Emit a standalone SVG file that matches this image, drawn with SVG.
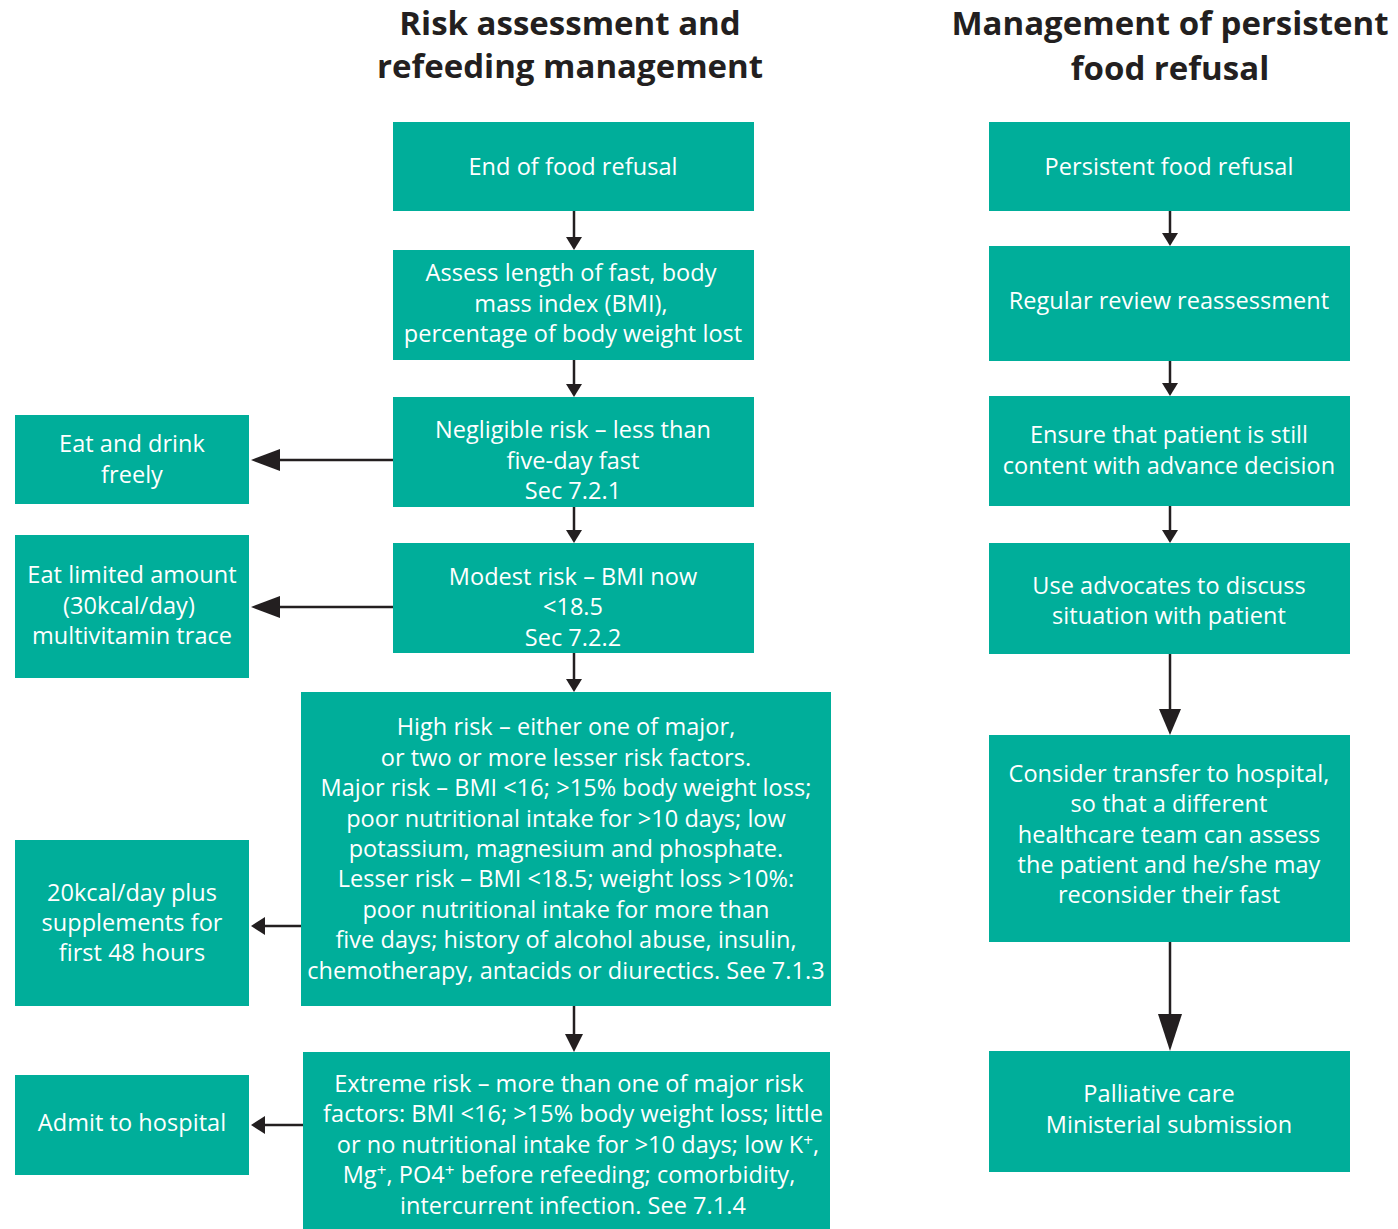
<svg xmlns="http://www.w3.org/2000/svg" width="1398" height="1229" viewBox="0 0 1398 1229">
<style>
.box{fill:#00AE9A}
.t{font-family:"Open Sans","Noto Sans",sans-serif;font-size:23.5px;letter-spacing:0.05px;fill:#fff;text-anchor:middle}
.h{font-family:"Open Sans","Noto Sans",sans-serif;font-size:33px;font-weight:bold;fill:#231f20;text-anchor:middle}
.ln{stroke:#231f20;stroke-width:2.5;fill:none}
.ah{fill:#231f20}
.sup{font-size:17px}
</style>
<rect width="1398" height="1229" fill="#fff"/>
<g id="titles">
<text class="h" x="570" y="35">Risk assessment and</text>
<text class="h" x="570" y="78">refeeding management</text>
<text class="h" x="1170" y="35">Management of persistent</text>
<text class="h" x="1170" y="80">food refusal</text>
</g>
<g id="connectors">
<line class="ln" x1="574" y1="211" x2="574" y2="238"/><polygon class="ah" points="566,237 582,237 574,250"/>
<line class="ln" x1="574" y1="360" x2="574" y2="385"/><polygon class="ah" points="566,384 582,384 574,397"/>
<line class="ln" x1="574" y1="507" x2="574" y2="531"/><polygon class="ah" points="566,530 582,530 574,543"/>
<line class="ln" x1="574" y1="653" x2="574" y2="680"/><polygon class="ah" points="566,679 582,679 574,692"/>
<line class="ln" x1="574" y1="1006" x2="574" y2="1036"/><polygon class="ah" points="565,1034 583,1034 574,1052"/>
<line class="ln" x1="393" y1="460" x2="275" y2="460"/><polygon class="ah" points="280,449 280,471 251,460"/>
<line class="ln" x1="393" y1="607" x2="275" y2="607"/><polygon class="ah" points="280,596 280,618 251,607"/>
<line class="ln" x1="301" y1="926" x2="262" y2="926"/><polygon class="ah" points="265,917 265,935 251,926"/>
<line class="ln" x1="303" y1="1125" x2="262" y2="1125"/><polygon class="ah" points="265,1116 265,1134 251,1125"/>
<line class="ln" x1="1170" y1="211" x2="1170" y2="234"/><polygon class="ah" points="1162,233 1178,233 1170,246"/>
<line class="ln" x1="1170" y1="361" x2="1170" y2="384"/><polygon class="ah" points="1162,383 1178,383 1170,396"/>
<line class="ln" x1="1170" y1="506" x2="1170" y2="531"/><polygon class="ah" points="1162,530 1178,530 1170,543"/>
<line class="ln" x1="1170" y1="654" x2="1170" y2="712"/><polygon class="ah" points="1159,709 1181,709 1170,735"/>
<line class="ln" x1="1170" y1="942" x2="1170" y2="1018"/><polygon class="ah" points="1158,1014 1182,1014 1170,1051"/>
</g>
<g id="n1"><rect class="box" x="393" y="122" width="361" height="89"/><text class="t" x="573" y="175">End of food refusal</text></g>
<g id="n2"><rect class="box" x="393" y="250" width="361" height="110"/><text class="t" x="571" y="281">Assess length of fast, body</text><text class="t" x="571" y="312">mass index (BMI),</text><text class="t" x="573" y="342">percentage of body weight lost</text></g>
<g id="n3"><rect class="box" x="393" y="397" width="361" height="110"/><text class="t" x="573" y="438">Negligible risk – less than</text><text class="t" x="573" y="469">five-day fast</text><text class="t" x="573" y="499">Sec 7.2.1</text></g>
<g id="n4"><rect class="box" x="393" y="543" width="361" height="110"/><text class="t" x="573" y="585">Modest risk – BMI now</text><text class="t" x="573" y="615">&lt;18.5</text><text class="t" x="573" y="646">Sec 7.2.2</text></g>
<g id="n5"><rect class="box" x="301" y="692" width="530" height="314"/>
<text class="t" x="566" y="735">High risk – either one of major,</text>
<text class="t" x="566" y="766">or two or more lesser risk factors.</text>
<text class="t" x="566" y="796">Major risk – BMI &lt;16; &gt;15% body weight loss;</text>
<text class="t" x="566" y="827">poor nutritional intake for &gt;10 days; low</text>
<text class="t" x="566" y="857">potassium, magnesium and phosphate.</text>
<text class="t" x="566" y="887">Lesser risk – BMI &lt;18.5; weight loss &gt;10%:</text>
<text class="t" x="566" y="918">poor nutritional intake for more than</text>
<text class="t" x="566" y="948">five days; history of alcohol abuse, insulin,</text>
<text class="t" x="566" y="979">chemotherapy, antacids or diurectics. See 7.1.3</text></g>
<g id="n6"><rect class="box" x="303" y="1052" width="527" height="177"/>
<text class="t" x="569" y="1092">Extreme risk – more than one of major risk</text>
<text class="t" x="573" y="1122">factors: BMI &lt;16; &gt;15% body weight loss; little</text>
<text class="t" x="578" y="1153">or no nutritional intake for &gt;10 days; low K<tspan class="sup" dy="-7">+</tspan><tspan dy="7">,</tspan></text>
<text class="t" x="569" y="1183">Mg<tspan class="sup" dy="-7">+</tspan><tspan dy="7">, PO4</tspan><tspan class="sup" dy="-7">+</tspan><tspan dy="7"> before refeeding; comorbidity,</tspan></text>
<text class="t" x="573" y="1214">intercurrent infection. See 7.1.4</text></g>
<g id="l1"><rect class="box" x="15" y="415" width="234" height="89"/><text class="t" x="132" y="452">Eat and drink</text><text class="t" x="132" y="483">freely</text></g>
<g id="l2"><rect class="box" x="15" y="535" width="234" height="143"/><text class="t" x="132" y="583">Eat limited amount</text><text class="t" x="129" y="614">(30kcal/day)</text><text class="t" x="132" y="644">multivitamin trace</text></g>
<g id="l3"><rect class="box" x="15" y="840" width="234" height="166"/><text class="t" x="132" y="901">20kcal/day plus</text><text class="t" x="132" y="931">supplements for</text><text class="t" x="132" y="961">first 48 hours</text></g>
<g id="l4"><rect class="box" x="15" y="1075" width="234" height="100"/><text class="t" x="132" y="1131">Admit to hospital</text></g>
<g id="r1"><rect class="box" x="989" y="122" width="361" height="89"/><text class="t" x="1169" y="175">Persistent food refusal</text></g>
<g id="r2"><rect class="box" x="989" y="246" width="361" height="115"/><text class="t" x="1169" y="309">Regular review reassessment</text></g>
<g id="r3"><rect class="box" x="989" y="396" width="361" height="110"/><text class="t" x="1169" y="443">Ensure that patient is still</text><text class="t" x="1169" y="474">content with advance decision</text></g>
<g id="r4"><rect class="box" x="989" y="543" width="361" height="111"/><text class="t" x="1169" y="594">Use advocates to discuss</text><text class="t" x="1169" y="624">situation with patient</text></g>
<g id="r5"><rect class="box" x="989" y="735" width="361" height="207"/><text class="t" x="1169" y="782">Consider transfer to hospital,</text><text class="t" x="1169" y="812">so that a different</text><text class="t" x="1169" y="843">healthcare team can assess</text><text class="t" x="1169" y="873">the patient and he/she may</text><text class="t" x="1169" y="903">reconsider their fast</text></g>
<g id="r6"><rect class="box" x="989" y="1051" width="361" height="121"/><text class="t" x="1159" y="1102">Palliative care</text><text class="t" x="1169" y="1133">Ministerial submission</text></g>
</svg>
